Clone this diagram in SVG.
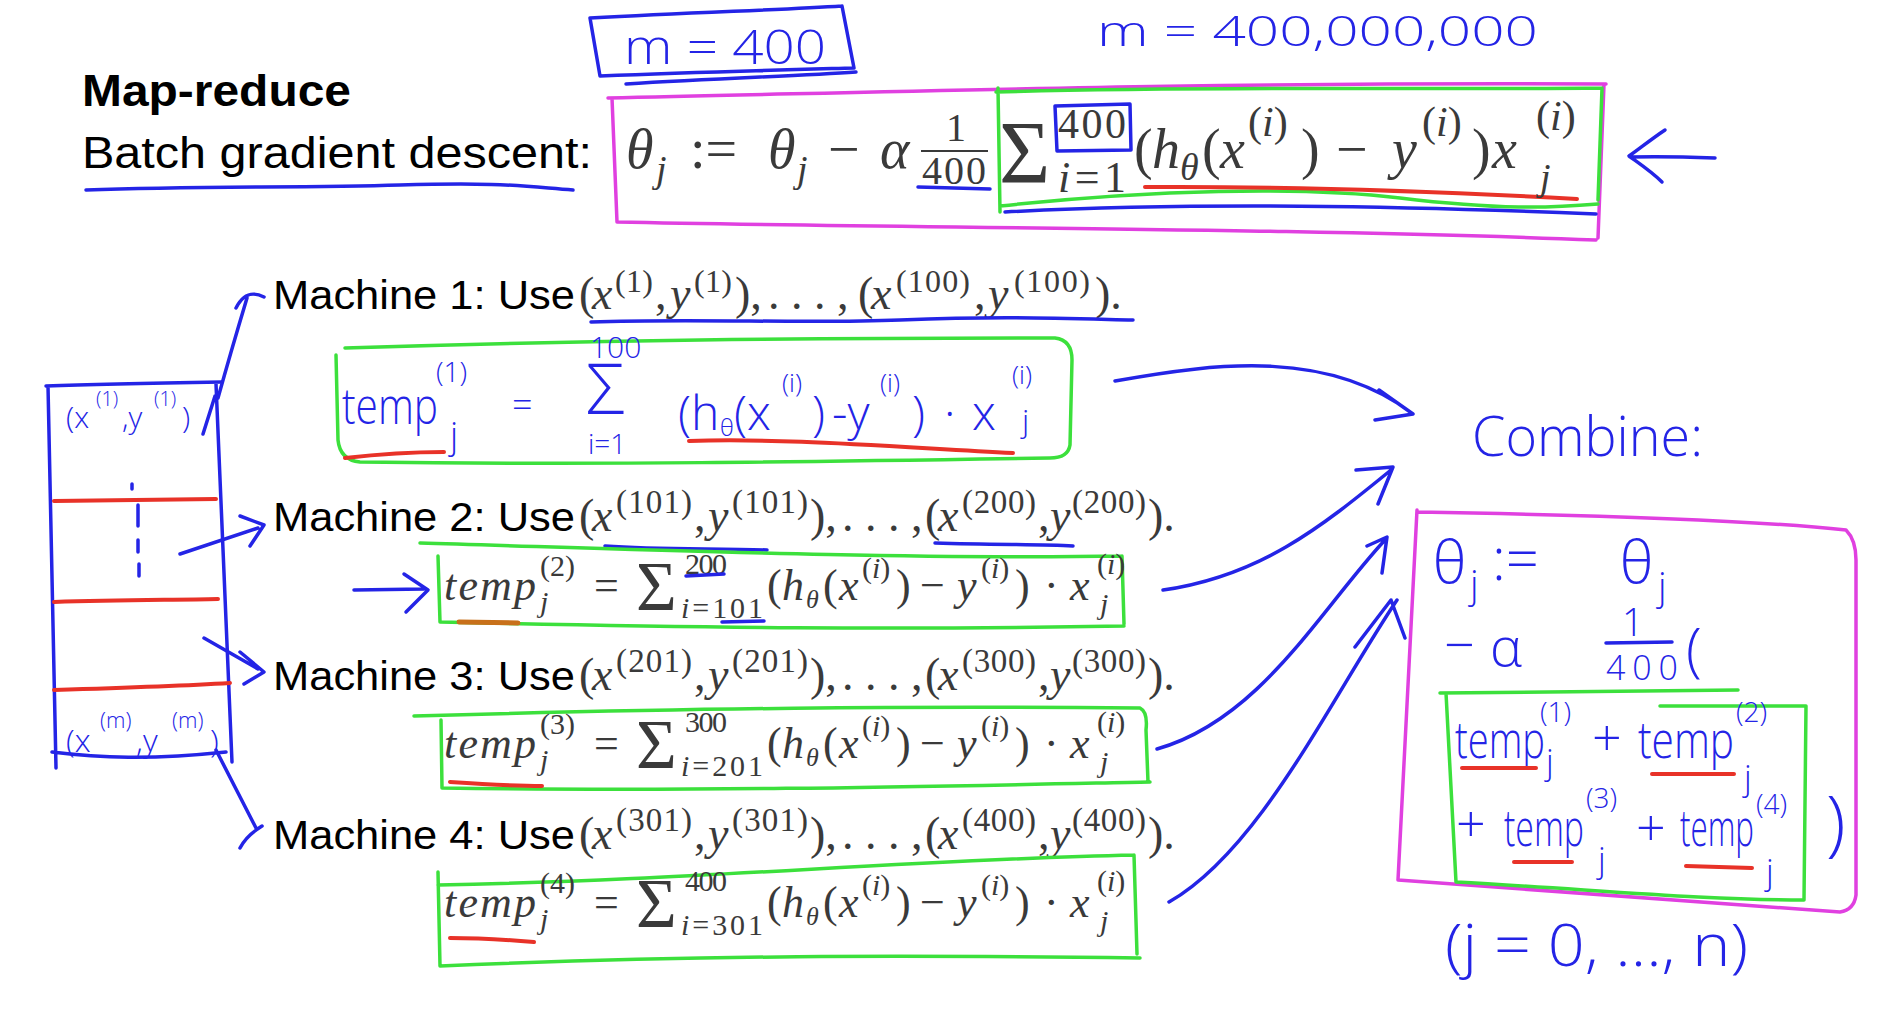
<svg xmlns="http://www.w3.org/2000/svg" width="1880" height="1020" viewBox="0 0 1880 1020">
<style>
.sans{font-family:"Liberation Sans",Arial,sans-serif;fill:#000}
.math{font-family:"Liberation Serif","Times New Roman",serif;fill:#3a3a3a}
.it{font-style:italic}
.hw{font-family:"Open Sans","DejaVu Sans",sans-serif;font-weight:300;fill:#2424e6}
.pen{fill:none;stroke-linecap:round;stroke-linejoin:round}
.b{stroke:#2424e6;stroke-width:3.5}
.g{stroke:#3ce03c;stroke-width:3.5}
.mg{stroke:#e040e0;stroke-width:3.5}
.r{stroke:#e83228;stroke-width:4}
.o{stroke:#c8701a;stroke-width:5}
.bar{stroke:#3a3a3a;stroke-width:2.2}
</style>
<rect width="1880" height="1020" fill="#fff"/>

<g id="title">
<text class="sans" x="82" y="106" font-size="44" font-weight="bold" textLength="269" lengthAdjust="spacingAndGlyphs">Map-reduce</text>
<text class="sans" x="82" y="168" font-size="44" textLength="510" lengthAdjust="spacingAndGlyphs">Batch gradient descent:</text>
<path class="pen b" d="M86,190 C200,186 300,188 400,185 S520,186 573,190"/>
</g>

<g id="m400">
<path class="pen b" d="M590,18 C700,12 780,10 842,6 M590,18 L600,76 M842,6 L854,68 M600,76 C700,72 780,70 854,68 M626,84 C720,78 800,76 856,72"/>
<text class="hw" x="624" y="64" font-size="48" font-weight="400" textLength="202" lengthAdjust="spacingAndGlyphs">m = 400</text>
</g>

<g id="mbig">
<text class="hw" x="1097" y="46" font-size="42" font-weight="400" textLength="441" lengthAdjust="spacingAndGlyphs">m = 400,000,000</text>
</g>

<g id="formula-top">
<path class="pen mg" d="M608,98 C900,92 1200,82 1606,84 M612,98 L617,222 M1604,84 L1598,238 M617,222 C900,228 1300,228 1596,240"/>
<path class="pen g" d="M996,92 C1200,86 1400,90 1602,88 M1602,88 L1598,200 M998,88 L1000,212 M1000,206 C1150,190 1300,186 1400,198 S1550,208 1598,204"/>
<path class="pen b" d="M1005,212 C1200,202 1400,206 1596,214 M918,187 L990,189 M1055,106 L1130,104 L1131,150 L1057,151 Z"/>
<path class="pen r" d="M1145,187 C1300,186 1450,192 1577,199"/>
<text class="math" font-size="56">
<tspan x="626" y="168" class="it">θ</tspan><tspan x="656" y="182" font-size="38" class="it">j</tspan>
<tspan x="690" y="168">:=</tspan>
<tspan x="768" y="168" class="it">θ</tspan><tspan x="797" y="182" font-size="38" class="it">j</tspan>
<tspan x="828" y="168">−</tspan>
<tspan x="880" y="168" class="it">α</tspan>
</text>
<text class="math" x="946" y="141" font-size="40">1</text>
<line class="bar" x1="921" y1="151" x2="988" y2="151"/>
<text class="math" x="922" y="184" font-size="40" textLength="64">400</text>
<text class="math" x="999" y="182" font-size="88">Σ</text>
<text class="math" x="1058" y="138" font-size="42" textLength="68">400</text>
<text class="math" x="1058" y="192" font-size="44" textLength="68"><tspan class="it">i</tspan>=1</text>
<text class="math" font-size="56">
<tspan x="1134" y="168">(</tspan><tspan x="1152" y="168" class="it">h</tspan><tspan x="1180" y="180" font-size="38" class="it">θ</tspan>
<tspan x="1202" y="168">(</tspan><tspan x="1220" y="168" class="it">x</tspan>
<tspan x="1248" y="136" font-size="42">(<tspan class="it">i</tspan>)</tspan>
<tspan x="1301" y="168">)</tspan>
<tspan x="1336" y="168">−</tspan>
<tspan x="1392" y="168" class="it">y</tspan>
<tspan x="1422" y="136" font-size="42">(<tspan class="it">i</tspan>)</tspan>
<tspan x="1472" y="168">)</tspan><tspan x="1492" y="168" class="it">x</tspan>
<tspan x="1536" y="130" font-size="42">(<tspan class="it">i</tspan>)</tspan>
<tspan x="1540" y="190" font-size="38" class="it">j</tspan>
</text>
<path class="pen b" d="M1630,157 C1660,156 1690,157 1715,158 M1665,130 C1650,140 1638,150 1629,156 C1640,164 1652,172 1662,182"/>
</g>

<g id="data-box">
<path class="pen b" d="M46,386 C100,384 160,383 222,382 M48,386 L56,768 M216,384 L232,762 M52,752 C100,758 150,760 226,752 M203,434 L215,396"/>
<path class="pen r" d="M54,501 L216,499 M54,602 C120,600 170,600 218,599 M54,690 C120,688 180,686 230,683"/>
<path class="pen b" d="M132,484 L132,489 M138,505 L138,526 M138,540 L138,552 M139,564 L139,576"/>
<text class="hw" font-size="30" font-weight="400">
<tspan x="66" y="428">(x</tspan><tspan x="96" y="406" font-size="20">(1)</tspan><tspan x="122" y="428">,y</tspan><tspan x="154" y="406" font-size="20">(1)</tspan><tspan x="182" y="428">)</tspan>
</text>
<text class="hw" font-size="32" font-weight="400">
<tspan x="66" y="752">(x</tspan><tspan x="100" y="728" font-size="22">(m)</tspan><tspan x="136" y="752">,y</tspan><tspan x="172" y="728" font-size="22">(m)</tspan><tspan x="210" y="752">)</tspan>
</text>
</g>

<g id="machine1">
<text class="sans" x="273" y="309" font-size="41" textLength="302" lengthAdjust="spacingAndGlyphs">Machine 1: Use</text>
<text class="math" font-size="46">
<tspan x="579" y="309">(</tspan><tspan x="592" y="309" class="it">x</tspan><tspan x="615" y="292" font-size="32" textLength="38">(1)</tspan>
<tspan x="655" y="309">,</tspan><tspan x="670" y="309" class="it">y</tspan><tspan x="694" y="292" font-size="32" textLength="38">(1)</tspan>
<tspan x="735" y="309">),</tspan><tspan x="768" y="309">. . . ,</tspan>
<tspan x="858" y="309">(</tspan><tspan x="871" y="309" class="it">x</tspan><tspan x="896" y="292" font-size="32" textLength="74">(100)</tspan>
<tspan x="974" y="309">,</tspan><tspan x="988" y="309" class="it">y</tspan><tspan x="1014" y="292" font-size="32" textLength="76">(100)</tspan>
<tspan x="1095" y="309">).</tspan>
</text>
<path class="pen b" d="M591,322 C700,318 800,324 900,320 S1050,318 1133,320"/>
</g>

<g id="temp1">
<path class="pen g" d="M345,348 C600,340 800,338 1055,338 Q1072,340 1072,360 L1070,445 Q1068,458 1050,458 C800,462 600,465 360,462 Q340,460 338,440 L336,355"/>
<text class="hw" x="342" y="424" font-size="50" font-weight="400" textLength="96" lengthAdjust="spacingAndGlyphs">temp</text>
<text class="hw" font-size="28" font-weight="400">
<tspan x="436" y="382">(1)</tspan><tspan x="450" y="448" font-size="36">j</tspan>
<tspan x="512" y="418" font-size="36">=</tspan>
<tspan x="590" y="358" font-size="30">100</tspan>
<tspan x="586" y="414" font-size="70">Σ</tspan>
<tspan x="588" y="454" font-size="28">i=1</tspan>
</text>
<text class="hw" font-size="48" font-weight="400">
<tspan x="678" y="430">(h</tspan><tspan x="720" y="436" font-size="24">θ</tspan><tspan x="734" y="430">(x</tspan><tspan x="782" y="392" font-size="26">(i)</tspan><tspan x="812" y="430">)</tspan>
<tspan x="832" y="430">-y</tspan><tspan x="880" y="392" font-size="26">(i)</tspan><tspan x="912" y="430">)</tspan>
<tspan x="944" y="430">·</tspan><tspan x="972" y="430">x</tspan><tspan x="1012" y="384" font-size="26">(i)</tspan><tspan x="1022" y="432" font-size="32">j</tspan>
</text>
<path class="pen r" d="M345,458 C380,454 410,452 444,452 M689,441 C780,438 880,446 1013,453"/>
</g>

<g id="machine2">
<text class="sans" x="273" y="531" font-size="41" textLength="302" lengthAdjust="spacingAndGlyphs">Machine 2: Use</text>
<text class="math" font-size="46">
<tspan x="579" y="531">(</tspan><tspan x="592" y="531" class="it">x</tspan><tspan x="616" y="513" font-size="33" textLength="76">(101)</tspan>
<tspan x="694" y="531">,</tspan><tspan x="708" y="531" class="it">y</tspan><tspan x="732" y="513" font-size="33" textLength="76">(101)</tspan>
<tspan x="810" y="531">),</tspan><tspan x="842" y="531">. . . ,</tspan>
<tspan x="925" y="531">(</tspan><tspan x="938" y="531" class="it">x</tspan><tspan x="962" y="513" font-size="33" textLength="74">(200)</tspan>
<tspan x="1038" y="531">,</tspan><tspan x="1050" y="531" class="it">y</tspan><tspan x="1072" y="513" font-size="33" textLength="74">(200)</tspan>
<tspan x="1148" y="531">).</tspan>
</text>
<path class="pen b" d="M605,546 C660,550 720,548 767,550 M935,543 C1000,545 1040,544 1073,546"/>
</g>

<g id="temp2">
<path class="pen g" d="M420,543 C600,548 900,560 1122,556 M1122,556 L1124,624 M440,622 C700,628 900,630 1124,626 M438,556 L440,622"/>
<path class="pen b" d="M354,590 L424,589 M404,574 L428,590 L406,612"/>
<text class="math" font-size="44">
<tspan x="444" y="600" class="it" textLength="92">temp</tspan><tspan x="540" y="576" font-size="30">(2)</tspan><tspan x="540" y="612" font-size="30" class="it">j</tspan>
<tspan x="594" y="600">=</tspan>
<tspan x="636" y="610" font-size="70">Σ</tspan>
<tspan x="685" y="574" font-size="30" textLength="42">200</tspan>
<tspan x="681" y="618" font-size="30" textLength="82"><tspan class="it">i</tspan>=101</tspan>
<tspan x="767" y="600">(</tspan><tspan x="782" y="600" class="it">h</tspan><tspan x="806" y="608" font-size="26" class="it">θ</tspan><tspan x="823" y="600">(</tspan><tspan x="839" y="600" class="it">x</tspan><tspan x="862" y="578" font-size="30">(<tspan class="it">i</tspan>)</tspan><tspan x="896" y="600">)</tspan>
<tspan x="920" y="600">−</tspan>
<tspan x="957" y="600" class="it">y</tspan><tspan x="981" y="578" font-size="30">(<tspan class="it">i</tspan>)</tspan><tspan x="1015" y="600">)</tspan>
<tspan x="1044" y="600">·</tspan>
<tspan x="1070" y="600" class="it">x</tspan><tspan x="1097" y="574" font-size="30">(<tspan class="it">i</tspan>)</tspan><tspan x="1100" y="614" font-size="30" class="it">j</tspan>
</text>
<path class="pen b" d="M686,576 L724,574 M722,622 L764,621"/>
<path class="pen o" d="M459,622 L518,623"/>
</g>

<g id="machine3">
<text class="sans" x="273" y="690" font-size="41" textLength="302" lengthAdjust="spacingAndGlyphs">Machine 3: Use</text>
<text class="math" font-size="46">
<tspan x="579" y="690">(</tspan><tspan x="592" y="690" class="it">x</tspan><tspan x="616" y="672" font-size="33" textLength="76">(201)</tspan>
<tspan x="694" y="690">,</tspan><tspan x="708" y="690" class="it">y</tspan><tspan x="732" y="672" font-size="33" textLength="76">(201)</tspan>
<tspan x="810" y="690">),</tspan><tspan x="842" y="690">. . . ,</tspan>
<tspan x="925" y="690">(</tspan><tspan x="938" y="690" class="it">x</tspan><tspan x="962" y="672" font-size="33" textLength="74">(300)</tspan>
<tspan x="1038" y="690">,</tspan><tspan x="1050" y="690" class="it">y</tspan><tspan x="1072" y="672" font-size="33" textLength="74">(300)</tspan>
<tspan x="1148" y="690">).</tspan>
</text>
</g>

<g id="temp3">
<path class="pen g" d="M414,716 C700,708 900,706 1140,708 Q1148,712 1146,730 L1148,782 M442,788 C700,792 950,786 1150,782 M441,720 L442,788"/>
<text class="math" font-size="44">
<tspan x="444" y="758" class="it" textLength="92">temp</tspan><tspan x="540" y="734" font-size="30">(3)</tspan><tspan x="540" y="770" font-size="30" class="it">j</tspan>
<tspan x="594" y="758">=</tspan>
<tspan x="636" y="768" font-size="70">Σ</tspan>
<tspan x="685" y="732" font-size="30" textLength="42">300</tspan>
<tspan x="681" y="776" font-size="30" textLength="82"><tspan class="it">i</tspan>=201</tspan>
<tspan x="767" y="758">(</tspan><tspan x="782" y="758" class="it">h</tspan><tspan x="806" y="766" font-size="26" class="it">θ</tspan><tspan x="823" y="758">(</tspan><tspan x="839" y="758" class="it">x</tspan><tspan x="862" y="736" font-size="30">(<tspan class="it">i</tspan>)</tspan><tspan x="896" y="758">)</tspan>
<tspan x="920" y="758">−</tspan>
<tspan x="957" y="758" class="it">y</tspan><tspan x="981" y="736" font-size="30">(<tspan class="it">i</tspan>)</tspan><tspan x="1015" y="758">)</tspan>
<tspan x="1044" y="758">·</tspan>
<tspan x="1070" y="758" class="it">x</tspan><tspan x="1097" y="732" font-size="30">(<tspan class="it">i</tspan>)</tspan><tspan x="1100" y="772" font-size="30" class="it">j</tspan>
</text>
<path class="pen r" d="M450,782 C480,784 510,786 542,786"/>
</g>

<g id="machine4">
<text class="sans" x="273" y="849" font-size="41" textLength="302" lengthAdjust="spacingAndGlyphs">Machine 4: Use</text>
<text class="math" font-size="46">
<tspan x="579" y="849">(</tspan><tspan x="592" y="849" class="it">x</tspan><tspan x="616" y="831" font-size="33" textLength="76">(301)</tspan>
<tspan x="694" y="849">,</tspan><tspan x="708" y="849" class="it">y</tspan><tspan x="732" y="831" font-size="33" textLength="76">(301)</tspan>
<tspan x="810" y="849">),</tspan><tspan x="842" y="849">. . . ,</tspan>
<tspan x="925" y="849">(</tspan><tspan x="938" y="849" class="it">x</tspan><tspan x="962" y="831" font-size="33" textLength="74">(400)</tspan>
<tspan x="1038" y="849">,</tspan><tspan x="1050" y="849" class="it">y</tspan><tspan x="1072" y="831" font-size="33" textLength="74">(400)</tspan>
<tspan x="1148" y="849">).</tspan>
</text>
</g>

<g id="temp4">
<path class="pen g" d="M438,885 C700,880 900,860 1134,855 M1134,855 L1137,954 M440,966 C700,955 900,955 1140,958 M438,872 L440,966"/>
<text class="math" font-size="44">
<tspan x="444" y="917" class="it" textLength="92">temp</tspan><tspan x="540" y="893" font-size="30">(4)</tspan><tspan x="540" y="929" font-size="30" class="it">j</tspan>
<tspan x="594" y="917">=</tspan>
<tspan x="636" y="927" font-size="70">Σ</tspan>
<tspan x="685" y="891" font-size="30" textLength="42">400</tspan>
<tspan x="681" y="935" font-size="30" textLength="82"><tspan class="it">i</tspan>=301</tspan>
<tspan x="767" y="917">(</tspan><tspan x="782" y="917" class="it">h</tspan><tspan x="806" y="925" font-size="26" class="it">θ</tspan><tspan x="823" y="917">(</tspan><tspan x="839" y="917" class="it">x</tspan><tspan x="862" y="895" font-size="30">(<tspan class="it">i</tspan>)</tspan><tspan x="896" y="917">)</tspan>
<tspan x="920" y="917">−</tspan>
<tspan x="957" y="917" class="it">y</tspan><tspan x="981" y="895" font-size="30">(<tspan class="it">i</tspan>)</tspan><tspan x="1015" y="917">)</tspan>
<tspan x="1044" y="917">·</tspan>
<tspan x="1070" y="917" class="it">x</tspan><tspan x="1097" y="891" font-size="30">(<tspan class="it">i</tspan>)</tspan><tspan x="1100" y="931" font-size="30" class="it">j</tspan>
</text>
<path class="pen r" d="M450,938 C480,938 510,940 534,942"/>
</g>

<g id="combine">
<text class="hw" x="1472" y="456" font-size="56" textLength="231" lengthAdjust="spacingAndGlyphs">Combine:</text>
</g>

<g id="combine-box">
<path class="pen mg" d="M1417,512 C1600,515 1750,520 1846,530 Q1856,540 1856,560 L1856,895 Q1854,910 1840,912 M1398,880 C1600,895 1750,905 1840,912 M1417,510 L1398,880"/>
<path class="pen g" d="M1440,693 L1738,690 M1660,706 L1806,706 M1446,693 L1456,882 M1806,706 L1804,900 M1456,882 C1600,890 1700,900 1804,900"/>
<text class="hw" font-size="58" font-weight="400">
<tspan x="1433" y="583">θ</tspan><tspan x="1470" y="598" font-size="38">j</tspan><tspan x="1492" y="580">:=</tspan>
<tspan x="1620" y="583">θ</tspan><tspan x="1658" y="600" font-size="38">j</tspan>
</text>
<text class="hw" font-size="54" font-weight="400">
<tspan x="1444" y="664">−</tspan><tspan x="1490" y="666">α</tspan>
<tspan x="1622" y="636" font-size="38">1</tspan>
<tspan x="1606" y="680" font-size="34" textLength="72">400</tspan>
<tspan x="1686" y="670" font-size="58">(</tspan>
</text>
<path class="pen b" d="M1606,643 L1672,642"/>
<text class="hw" font-size="52" font-weight="400">
<tspan x="1455" y="758" textLength="90" lengthAdjust="spacingAndGlyphs">temp</tspan><tspan x="1540" y="722" font-size="28">(1)</tspan><tspan x="1546" y="774" font-size="34">j</tspan>
<tspan x="1592" y="756">+</tspan>
<tspan x="1638" y="758" textLength="96" lengthAdjust="spacingAndGlyphs">temp</tspan><tspan x="1736" y="722" font-size="28">(2)</tspan><tspan x="1744" y="790" font-size="34">j</tspan>
<tspan x="1456" y="842">+</tspan>
<tspan x="1504" y="846" textLength="80" lengthAdjust="spacingAndGlyphs">temp</tspan><tspan x="1586" y="808" font-size="28">(3)</tspan><tspan x="1598" y="872" font-size="34">j</tspan>
<tspan x="1636" y="846">+</tspan>
<tspan x="1680" y="846" textLength="74" lengthAdjust="spacingAndGlyphs">temp</tspan><tspan x="1756" y="814" font-size="28">(4)</tspan><tspan x="1766" y="884" font-size="34">j</tspan>
<tspan x="1826" y="848" font-size="72">)</tspan>
</text>
<path class="pen r" d="M1462,768 L1536,768 M1652,774 L1734,774 M1514,862 L1572,862 M1686,866 L1752,868"/>
</g>

<g id="jrange">
<text class="hw" x="1445" y="966" font-size="58" textLength="303" lengthAdjust="spacingAndGlyphs">(j = 0, ..., n)</text>
</g>

<g id="connectors">
<path class="pen b" d="M218,398 C228,362 238,328 247,298 M236,308 C242,296 250,290 264,297"/>
<path class="pen b" d="M180,554 L258,528 M240,516 L264,525 L250,546"/>
<path class="pen b" d="M204,638 L258,669 M240,652 L264,672 L244,684"/>
<path class="pen b" d="M216,750 L256,828 M240,848 Q246,836 262,826"/>
<path class="pen b" d="M1115,381 C1220,362 1330,350 1413,414 M1379,390 L1413,414 L1375,420"/>
<path class="pen b" d="M1163,590 C1260,576 1320,528 1391,470 M1356,470 L1393,467 L1378,504"/>
<path class="pen b" d="M1157,749 C1260,720 1320,610 1385,540 M1367,546 L1387,537 L1382,573"/>
<path class="pen b" d="M1169,902 C1260,850 1330,700 1397,600 M1355,647 L1391,600 L1405,638"/>
</g>
</svg>
